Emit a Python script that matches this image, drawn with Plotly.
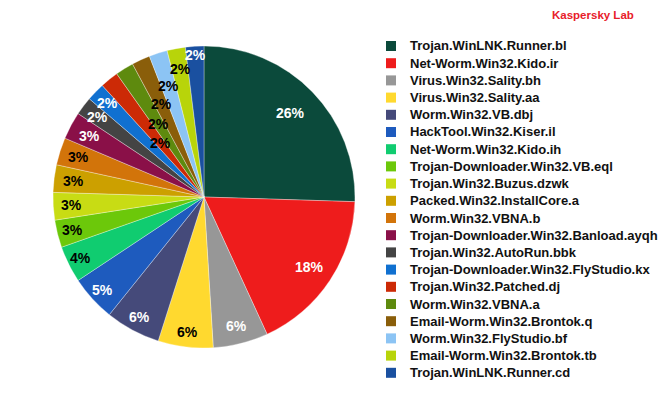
import math
import plotly.graph_objects as go

labels = [
    "Trojan.WinLNK.Runner.bl",
    "Net-Worm.Win32.Kido.ir",
    "Virus.Win32.Sality.bh",
    "Virus.Win32.Sality.aa",
    "Worm.Win32.VB.dbj",
    "HackTool.Win32.Kiser.il",
    "Net-Worm.Win32.Kido.ih",
    "Trojan-Downloader.Win32.VB.eql",
    "Trojan.Win32.Buzus.dzwk",
    "Packed.Win32.InstallCore.a",
    "Worm.Win32.VBNA.b",
    "Trojan-Downloader.Win32.Banload.ayqh",
    "Trojan.Win32.AutoRun.bbk",
    "Trojan-Downloader.Win32.FlyStudio.kx",
    "Trojan.Win32.Patched.dj",
    "Worm.Win32.VBNA.a",
    "Email-Worm.Win32.Brontok.q",
    "Worm.Win32.FlyStudio.bf",
    "Email-Worm.Win32.Brontok.tb",
    "Trojan.WinLNK.Runner.cd",
]
percents = [26, 18, 6, 6, 6, 5, 4, 3, 3, 3, 3, 3, 2, 2, 2, 2, 2, 2, 2, 2]

# styling
colors = [
    "#0B4A3B", "#EE1C1C", "#979797", "#FFD92F", "#454A7A",
    "#1E5BBE", "#10CC70", "#6CC80A", "#C8DC14", "#CCA000",
    "#D2740A", "#8A1048", "#444444", "#1070D0", "#CC2A06",
    "#5E8A0E", "#8A5E0A", "#8CC4F4", "#B8D40A", "#1A50A0",
]
text_colors = [
    "white", "white", "white", "black", "white",
    "white", "black", "black", "black", "black",
    "black", "white", "white", "white", "black",
    "black", "black", "black", "black", "white",
]
# radial position of each percentage label, as a fraction of the radius
label_radius = [0.80, 0.84, 0.88, 0.90, 0.90, 0.91, 0.91, 0.90, 0.88, 0.87,
                0.87, 0.86, 0.88, 0.89, 0.46, 0.57, 0.68, 0.77, 0.86, 0.94]

W, H = 668, 396
dom_x = [0.0793, 0.5314]
dom_y = [0.1212, 0.8838]
FONT = "Liberation Sans, Arial, sans-serif"

# legend layout (pixels)
LEG_SQ_X = 386
LEG_SQ_SIZE = 10
LEG_TEXT_X = 408
LEG_TOP = 46
LEG_STEP = 17.2

fig = go.Figure(go.Pie(
    labels=labels,
    values=percents,
    text=[f"{p}%" for p in percents],
    textinfo="none",
    hovertemplate="%{label}: %{text}<extra></extra>",
    marker=dict(colors=colors, line=dict(color="rgba(255,255,255,0.55)", width=0.6)),
    sort=False,
    direction="clockwise",
    rotation=0,
    domain=dict(x=dom_x, y=dom_y),
    showlegend=False,
))

# percentage labels placed at each slice's mid-angle
cx = (dom_x[0] + dom_x[1]) / 2 * W
cy = (1 - (dom_y[0] + dom_y[1]) / 2) * H
R = min((dom_x[1] - dom_x[0]) * W, (dom_y[1] - dom_y[0]) * H) / 2
total = sum(percents)
annotations = []
shapes = []
cum = 0
for p, tc, rf in zip(percents, text_colors, label_radius):
    theta = math.radians((cum + p / 2) / total * 360)
    cum += p
    px = cx + rf * R * math.sin(theta)
    py = cy - rf * R * math.cos(theta)
    annotations.append(dict(
        text=f"{p}%", x=px / W, y=1 - py / H, xref="paper", yref="paper",
        xanchor="center", yanchor="middle", showarrow=False,
        font=dict(size=14, color=tc, family=FONT, weight="bold"),
    ))

# legend: colour square + label for each category
for i, (lab, col) in enumerate(zip(labels, colors)):
    yc = LEG_TOP + i * LEG_STEP
    shapes.append(dict(
        type="rect", xref="paper", yref="paper",
        x0=LEG_SQ_X / W, x1=(LEG_SQ_X + LEG_SQ_SIZE) / W,
        y0=1 - (yc + LEG_SQ_SIZE / 2) / H, y1=1 - (yc - LEG_SQ_SIZE / 2) / H,
        fillcolor=col, line=dict(width=0),
    ))
    annotations.append(dict(
        text=lab, x=LEG_TEXT_X / W, y=1 - yc / H, xref="paper", yref="paper",
        xanchor="left", yanchor="middle", showarrow=False,
        font=dict(size=13, color="#111111", family=FONT, weight="bold"),
    ))

annotations.append(dict(
    text="Kaspersky Lab", x=0.952, y=0.962, xref="paper", yref="paper",
    xanchor="right", yanchor="middle", showarrow=False,
    font=dict(size=11.5, color="#E8202A", family=FONT, weight="bold"),
))

fig.update_layout(
    width=W, height=H,
    margin=dict(l=0, r=0, t=0, b=0),
    paper_bgcolor="white",
    plot_bgcolor="white",
    showlegend=False,
    annotations=annotations,
    shapes=shapes,
)

fig.write_html("out.html", config={"displayModeBar": False},
               post_script="document.body.style.margin='0';")
